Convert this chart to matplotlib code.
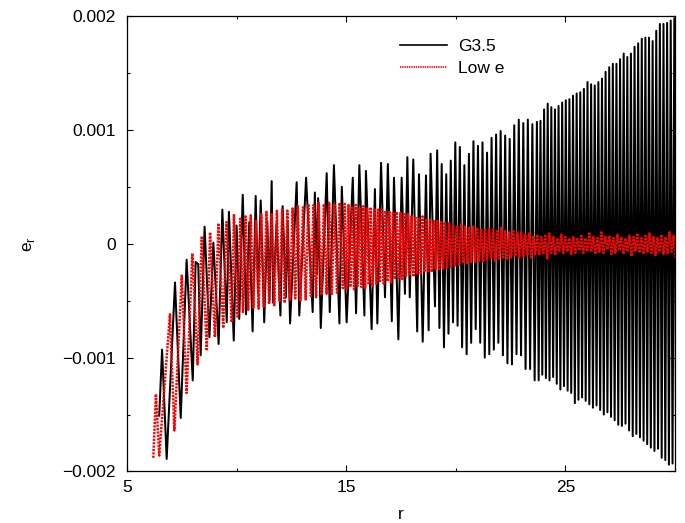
import numpy as np
import matplotlib.pyplot as plt

plt.rcParams['font.family'] = ['Liberation Sans', 'DejaVu Sans']
plt.rcParams['font.size'] = 12.5

# e_r in units of 1e-4.  Early part read vertex by vertex, dense part as
# alternating peaks spread evenly over the given r span.
g35_r_head = [6.47, 6.60, 6.81, 7.19, 7.45, 7.72, 8.00, 8.13, 8.25, 8.36,
              8.54, 8.76, 8.94, 9.18, 9.35, 9.55, 9.65, 9.87, 10.00, 10.12,
              10.28, 10.43, 10.58, 10.73, 10.87, 10.98, 11.10, 11.26, 11.40, 11.50,
              11.60, 11.67, 11.82, 12.00, 12.10, 12.25, 12.33, 12.44, 12.74, 12.86,
              13.17, 13.47, 13.57, 13.66, 13.72, 13.84, 14.11, 14.25, 14.44, 14.69,
              14.80, 15.02, 15.30, 15.45, 15.60, 15.83, 15.90, 16.16, 16.31, 16.42,
              16.59, 16.77, 16.90, 17.08, 17.18, 17.38, 17.53, 17.68, 17.79, 17.90,
              18.06, 18.24, 18.32, 18.49, 18.64, 18.76, 18.85, 19.05]
g35_e_head = [-15.1, -9.3, -18.9, -3.4, -15.3, -1.4, -12.0, -1.6, -1.8, -9.8,
              1.5, -8.2, 0.1, -8.8, 3.0, -6.9, 2.8, -8.5, 1.6, -6.6,
              4.3, -6.2, 1.9, -7.7, 4.2, -4.4, 3.8, -6.9, 2.0, -5.0,
              5.5, -5.2, 1.8, -6.3, 3.3, -4.7, 1.9, -7.0, 5.4, -6.3,
              5.8, -6.0, 4.5, -2.6, 4.0, -7.4, 6.2, -6.0, 6.9, -7.0,
              5.0, -6.9, 5.8, -6.1, 6.9, -6.3, 6.4, -7.5, 4.8, -7.0,
              7.1, -4.7, 7.0, -6.8, 5.8, -8.4, 5.8, -4.4, 7.6, -4.7,
              7.4, -7.7, 6.1, -8.6, 6.0, -7.6, 7.9, -5.5]
g35_spans = [(19.15, 23.70), (23.78, 30.30)]
g35_mid = [8.2, -7.4, 7.0, -9.1, 6.1, -7.9, 7.3, -6.9, 8.9, -7.2,
           8.5, -9.1, 6.9, -9.7, 7.9, -8.7, 9.0, -7.5, 8.6, -8.7,
           8.9, -10.0, 8.0, -9.7, 9.3, -9.3, 9.6, -8.7, 9.9, -9.8,
           9.5, -10.5, 9.2, -10.6, 10.4, -9.7, 10.9, -9.8, 10.6, -11.0,
           10.9, -11.0, 10.5, -12.0, 10.7]
g35_tail = [-12.0, 10.8, -11.5, 11.8, -11.8, 12.3, -12.0, 12.0, -11.7, 11.8,
            -12.3, 12.1, -12.8, 12.4, -12.5, 12.6, -12.9, 12.7, -13.1, 13.0,
            -14.0, 13.2, -13.7, 13.3, -13.5, 13.6, -13.8, 14.2, -14.1, 14.0,
            -14.4, 13.9, -14.2, 14.2, -14.6, 14.5, -15.0, 15.1, -14.8, 15.5,
            -15.2, 15.8, -15.5, 15.8, -15.9, 16.2, -16.0, 16.7, -15.8, 16.4,
            -16.4, 16.7, -16.9, 17.3, -16.7, 17.6, -17.0, 18.0, -17.3, 18.1,
            -17.6, 18.1, -17.9, 17.8, -18.2, 18.7, -18.0, 19.3, -18.8, 19.3,
            -19.0, 19.4, -19.4, 19.6, -19.3, 19.8, -19.8, 20.5, -20.0, 21.0]

lowe_r_head = [6.20, 6.32, 6.47, 6.96, 7.16, 7.50, 7.72, 7.98, 8.22, 8.41,
               8.64, 8.79, 9.01, 9.17, 9.39, 9.54, 9.78, 9.88]
lowe_e_head = [-18.8, -13.2, -18.6, -6.2, -16.4, -2.8, -13.1, -0.85, -10.6, 0.55,
               -9.4, 1.0, -8.2, 1.8, -7.4, 1.9, -6.9, 2.6]
lowe_spans = [(10.05, 14.70), (14.85, 19.50), (19.60, 30.30)]
lowe_a = [-6.4, 2.2, -6.0, 2.4, -5.8, 2.5, -5.6, 2.0, -5.7, 2.6,
          -5.5, 2.8, -5.3, 2.6, -5.4, 2.9, -5.0, 3.0, -5.2, 2.9,
          -4.9, 3.1, -4.8, 3.3, -5.0, 3.2, -4.9, 3.5, -4.6, 3.4,
          -4.7, 3.6, -4.5, 3.5, -4.4, 3.6, -4.5, 3.5, -4.3, 3.6]
lowe_b = [-3.9, 3.5, -4.0, 3.4, -3.8, 3.3, -4.0, 3.4, -3.7, 3.2,
          -3.8, 3.3, -3.9, 3.1, -3.6, 3.2, -3.7, 3.1, -3.5, 3.0,
          -3.4, 3.0, -3.5, 2.9, -3.3, 2.9, -3.4, 2.8, -3.1, 2.8,
          -3.0, 2.7, -3.1, 2.6, -2.9, 2.6, -2.8, 2.5, -2.9, 2.4,
          -2.7, 2.3, -2.6, 2.4, -2.5, 2.2, -2.4, 2.1, -2.5, 2.0,
          -2.3, 2.0, -2.2, 1.9, -2.2, 1.9]
lowe_c = [-2.1, 1.8, -2.0, 1.7, -1.9, 1.6, -1.8, 1.7, -1.7, 1.5,
          -1.8, 1.4, -1.6, 1.5, -1.6, 1.4,
          -1.5, 1.3, -1.6, 1.2, -1.4, 1.3, -1.3, 1.2, -1.5, 1.1,
          -1.3, 1.4, -1.2, 1.1, -1.3, 1.0, -1.2, 1.1, -1.1, 0.9,
          -1.2, 1.0,
          -1.1, 0.8, -1.0, 0.9, -1.2, 0.7, -0.9, 0.8, -1.0, 0.6,
          -0.8, 0.7, -1.3, 0.9, -0.8, 0.6, -0.9, 0.5, -0.7, 0.8,
          -0.8, 0.6,
          -0.7, 0.5, -0.9, 0.6, -0.8, 0.4, -0.6, 0.7, -0.8, 0.5,
          -0.7, 0.9, -0.6, 0.6, -0.9, 0.5, -0.7, 1.0, -0.8, 0.6,
          -0.5, 0.7, -0.9, 0.5, -0.8, 0.8, -0.6, 0.6,
          -0.9, 0.5, -0.7, 0.7, -1.1, 0.6, -0.6, 0.8, -0.8, 0.5,
          -0.9, 0.7, -0.7, 0.9, -0.8, 0.6, -1.0, 0.5, -0.7, 0.8,
          -0.9, 0.6, -0.8, 1.0, -0.7, 0.7, -1.2, 0.6, -0.8, 0.7]

y_ticks = [-0.002, -0.001, 0, 0.001, 0.002]
y_tick_labels = ['\u22120.002', '\u22120.001', '0', '0.001', '0.002']
x_ticks = [5, 15, 25]


def build(r_head, e_head, spans, parts):
    r = list(r_head)
    e = list(e_head)
    for (r0, r1), vals in zip(spans, parts):
        r.extend(np.linspace(r0, r1, len(vals)))
        e.extend(vals)
    return np.array(r), np.array(e) * 1e-4


r_g, e_g = build(g35_r_head, g35_e_head, g35_spans, [g35_mid, g35_tail])
r_l, e_l = build(lowe_r_head, lowe_e_head, lowe_spans, [lowe_a, lowe_b, lowe_c])

fig = plt.figure(figsize=(6.85, 5.23), dpi=100)
ax = fig.add_axes([0.1854, 0.0985, 0.8, 0.8709])

ax.plot(r_g, e_g, color='black', lw=1.45, label='G3.5')
ax.plot(r_l, e_l, color='red', lw=1.8, linestyle=(0, (0.85, 0.5)), label='Low e')

ax.set_xlim(5, 30)
ax.set_ylim(-0.002, 0.002)
ax.set_xticks(x_ticks)
ax.set_xticks([10, 20, 30], minor=True)
ax.set_yticks(y_ticks)
ax.set_yticklabels(y_tick_labels)
ax.set_yticks([-0.0015, -0.0005, 0.0005, 0.0015], minor=True)
ax.tick_params(which='both', direction='in', top=True, right=True, width=0.8)
ax.tick_params(which='major', length=4.5)
ax.tick_params(which='minor', length=2.3)
ax.tick_params(axis='y', pad=8)
ax.tick_params(axis='x', pad=6)
for s in ax.spines.values():
    s.set_linewidth(0.9)

ax.set_xlabel('r', labelpad=9)
ax.set_ylabel(r'e$_\mathregular{r}$', labelpad=18)

leg = ax.legend(loc='upper left', bbox_to_anchor=(0.498, 0.949), frameon=False,
                borderpad=0, borderaxespad=0, handlelength=2.7, handletextpad=0.63,
                labelspacing=0.38)
leg.get_lines()[0].set_linewidth(1.2)
leg.get_lines()[1].set_linewidth(1.2)

fig.savefig('out.png', dpi=100)
